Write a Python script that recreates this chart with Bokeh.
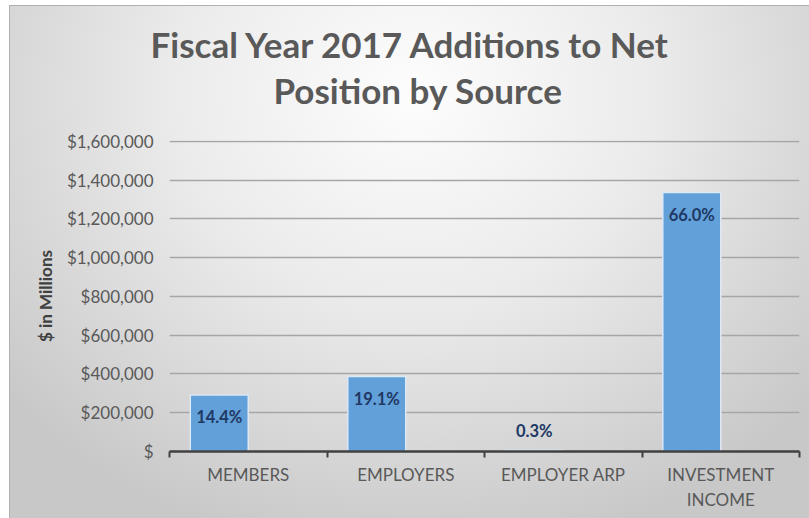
from bokeh.plotting import figure
from bokeh.models import (Range1d, FixedTicker, ColumnDataSource, Title, InlineStyleSheet,
                          NumeralTickFormatter, CDSView, BooleanFilter)
from bokeh.transform import dodge
from bokeh.core.properties import value
from bokeh.embed import file_html
from bokeh.resources import INLINE

# ---- data ----
categories = ["MEMBERS", "EMPLOYERS", "EMPLOYER ARP", "INVESTMENT\nINCOME"]
amounts = [291000, 386500, 6000, 1336000]
shares = ["14.4%", "19.1%", "0.3%", "66.0%"]
y_ticks = [0, 200000, 400000, 600000, 800000, 1000000, 1200000, 1400000, 1600000]
title_lines = ["Fiscal Year 2017 Additions to Net", "Position by Source"]
y_label = "$ in Millions"

FONT = "Lato"
GRAY = "#595959"

n = len(categories)
centers = [i + 0.5 for i in range(n)]      # slot centres on a 0..n axis
edges = list(range(n + 1))                  # slot boundaries

p = figure(width=809, height=518,
           x_range=Range1d(0, n), y_range=Range1d(0, y_ticks[-1] * 1.003),
           output_backend="svg", toolbar_location=None,
           min_border_top=140, min_border_bottom=67,
           min_border_left=169, min_border_right=10)

p.background_fill_color = None
p.border_fill_color = None
p.outline_line_color = None
p.stylesheets = [InlineStyleSheet(css=(
    ":host { background: radial-gradient(ellipse 66% 90% at 51% 18%, "
    "#fdfdfd 0%, #ebebeb 45%, #c8c8c8 100%); "
    "box-shadow: inset 9px 5px 0 #ffffff, inset 10px 6px 0 #b0b0b0; }"))]

# y axis
yax = p.yaxis[0]
yax.ticker = FixedTicker(ticks=y_ticks)
yax.formatter = NumeralTickFormatter(format="$0,0")
yax.major_label_overrides = {0: "$"}
yax.axis_line_color = None
yax.major_tick_line_color = None
yax.minor_tick_line_color = None
yax.major_tick_in = 0
yax.major_tick_out = 0
yax.major_label_standoff = 16
yax.major_label_text_font = FONT
yax.major_label_text_font_size = "17px"
yax.major_label_text_color = GRAY
yax.axis_label = y_label
yax.axis_label_text_font = FONT
yax.axis_label_text_font_size = "17px"
yax.axis_label_text_font_style = "bold"
yax.axis_label_text_color = "#404040"
yax.axis_label_standoff = 8

p.ygrid.grid_line_color = "#a6a6a6"
p.ygrid.grid_line_width = 1.4
p.xgrid.visible = False

# x axis: labels at slot centres, tick marks at slot boundaries
xax = p.xaxis[0]
xax.ticker = FixedTicker(ticks=centers, minor_ticks=edges)
xax.major_label_overrides = {c: name for c, name in zip(centers, categories)}
xax.axis_line_color = "#404040"
xax.axis_line_width = 2.5
xax.major_tick_line_color = None
xax.major_tick_in = 0
xax.major_tick_out = 6
xax.minor_tick_line_color = "#404040"
xax.minor_tick_line_width = 2
xax.minor_tick_in = 0
xax.minor_tick_out = 6
xax.major_label_standoff = 6
xax.major_label_text_font = FONT
xax.major_label_text_font_size = "17px"
xax.major_label_text_color = GRAY

# bars
src = ColumnDataSource(dict(pos=centers, amount=amounts, share=shares))
bar_w = 0.368
xpos = dodge("pos", -bar_w / 2)
p.vbar(x=xpos, top="amount", width=bar_w, source=src,
       fill_color="#62a0d9", line_color="#dce8f5", line_width=1.5)

# data labels
big = max(amounts)
inside = [a > 0.1 * big for a in amounts]
outside = [not v for v in inside]
common = dict(x=xpos, y="amount", text="share", source=src,
              text_font=value(FONT), text_font_style="bold",
              text_font_size="16.5px", text_color="#203864", text_align="center")
p.text(view=CDSView(filter=BooleanFilter(inside)), text_baseline="top", y_offset=12, **common)
p.text(view=CDSView(filter=BooleanFilter(outside)), text_baseline="bottom", y_offset=-9, **common)

# spacer between title block and plot area (closest panel to the frame)
p.add_layout(Title(text=" ", text_font_size="10px", standoff=16), "above")
# title: two lines, each its own Title (closest to the frame first)
for line, off in zip(reversed(title_lines), [104, -19]):
    p.add_layout(Title(text=line, align="left", offset=off, standoff=2,
                       text_font=FONT, text_font_size="35px", text_font_style="bold",
                       text_color=GRAY), "above")

open("out.html", "w").write(file_html(p, INLINE))
